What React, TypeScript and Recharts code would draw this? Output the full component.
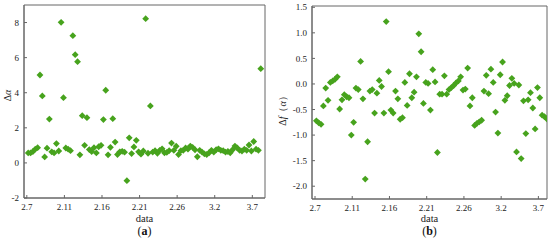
import { ReferenceArea, Scatter, ScatterChart, XAxis, YAxis } from "recharts";

const X_LABELS = ["2.7", "2.11", "2.16", "2.21", "2.26", "3.2", "3.7"];

// (a) Δα, one value per sample
const DELTA_A = [
  0.57, 0.57, 0.65, 0.78, 0.87, 5.01, 3.82, 0.34, 0.84, 2.5,
  0.63, 0.57, 1.1, 0.68, 8.01, 3.72, 0.85, 0.78, 0.7, 7.25,
  6.17, 5.77, 0.46, 2.69, 1.0, 2.58, 0.76, 0.65, 0.87, 0.57,
  0.92, 1.0, 2.47, 4.14, 0.46, 0.89, 2.52, 1.19, 0.48, 0.63,
  0.66, 0.61, -1.01, 1.43, 0.53, 0.91, 1.29, 0.63, 0.5, 0.68,
  8.22, 0.55, 3.25, 0.62, 0.7, 0.55, 0.72, 0.8, 0.58, 0.6,
  0.7, 1.13, 0.72, 0.95, 0.48, 0.7, 0.72, 0.85, 0.78, 0.96,
  0.88, 0.75, 0.35, 0.72, 0.62, 0.52, 0.48, 0.58, 0.72, 0.62,
  0.75, 0.8, 0.72, 0.7, 0.62, 0.65, 0.58, 0.75, 0.96, 0.85,
  0.72, 0.68, 0.78, 0.72, 1.02, 0.68, 1.22, 0.78, 0.72, 5.37,
];

// (b) Δf(α)
const DELTA_F = [
  -0.72, -0.76, -0.79, -0.43, -0.08, -0.32, 0.03, 0.06, 0.09, 0.14,
  -0.49, -0.31, -0.21, -0.25, -0.27, -1.0, -0.75, -0.08, -0.11, 0.44,
  -0.29, -1.86, -1.13, -0.14, -0.11, -0.57, -0.18, 0.07, -0.05, -0.57,
  1.22, 0.24, -0.51, -0.57, -0.14, -0.29, -0.69, -0.66, 0.03, -0.42,
  0.2, -0.27, -0.16, 0.14, 0.98, 0.63, -0.38, 0.03, 0.01, -0.51,
  0.28, 0.04, -1.34, -0.2, -0.2, 0.16, -0.2, -0.11, -0.07, -0.03,
  0.02, 0.06, 0.14, -0.12, -0.1, 0.31, -0.43, -0.27, -0.81, -0.77,
  -0.74, -0.71, -0.14, 0.17, -0.19, 0.29, 0.03, -0.55, -0.96, 0.18,
  0.43, -0.32, -0.23, -0.03, 0.11, 0.01, -1.33, -0.02, -1.46, -0.33,
  -0.97, -0.31, -0.17, -0.47, -0.88, -0.07, -0.27, -0.61, -0.64, -0.68,
];

const A_TICKS = [-2, 0, 2, 4, 6, 8];
const F_TICKS = [-2, -1.5, -1, -0.5, 0, 0.5, 1, 1.5];

const GREEN = "#47a31d";
const FRAME = "#666";
const FONT = "Liberation Serif, Times New Roman, serif";

// every label is 16 samples apart
const xTicks = X_LABELS.map((_, k) => k * 16 - 0.6);
const xFmt = (v: number) => X_LABELS[Math.round((v + 0.6) / 16)] ?? "";

const tickStyle = { fontSize: 9, fill: "#222", fontFamily: FONT, style: { fontFamily: FONT } };

function Diamond(props: any) {
  const { cx, cy } = props;
  const r = 3.4;
  return (
    <path
      d={`M${cx},${cy - r}L${cx + r},${cy}L${cx},${cy + r}L${cx - r},${cy}Z`}
      fill={GREEN}
    />
  );
}

interface PanelProps {
  values: number[];
  xDomain: [number, number];
  yDomain: [number, number];
  yTicks: number[];
  yFmt: (v: number) => string;
  yWidth: number;
  xHeight: number;
  margin: { top: number; right: number; left: number; bottom: number };
  yLabel: (vb: any) => React.ReactNode;
}

function Panel({ values, xDomain, yDomain, yTicks, yFmt, yWidth, xHeight, margin, yLabel }: PanelProps) {
  const rows = values.map((v, i) => ({ x: i, y: v }));
  return (
    <ScatterChart width={275} height={240} margin={margin} style={{ fontFamily: FONT }}>
      <XAxis
        type="number"
        dataKey="x"
        domain={xDomain}
        allowDataOverflow
        ticks={xTicks}
        tickFormatter={xFmt}
        interval={0}
        height={xHeight}
        tick={tickStyle}
        tickSize={-3}
        tickMargin={9}
        stroke={FRAME}
        label={{
          value: "data",
          position: "insideBottom",
          offset: 18,
          style: { fontSize: 10.5, fill: "#222", fontFamily: FONT },
        }}
      />
      <YAxis
        type="number"
        dataKey="y"
        domain={yDomain}
        allowDataOverflow
        ticks={yTicks}
        tickFormatter={yFmt}
        interval={0}
        width={yWidth}
        tick={tickStyle}
        tickSize={-3}
        tickMargin={8}
        stroke={FRAME}
        label={{ content: (p: any) => yLabel(p.viewBox) }}
      />
      <ReferenceArea
        x1={xDomain[0]}
        x2={xDomain[1]}
        y1={yDomain[0]}
        y2={yDomain[1]}
        fill="none"
        stroke={FRAME}
        strokeWidth={1}
        ifOverflow="visible"
      />
      <Scatter data={rows} shape={<Diamond />} isAnimationActive={false} />
    </ScatterChart>
  );
}

const tagStyle = (left: number): React.CSSProperties => ({
  position: "absolute",
  left: left - 20,
  width: 40,
  top: 224,
  textAlign: "center",
  fontSize: 12,
  fontFamily: FONT,
  color: "#111",
});

export default function App() {
  return (
    <div
      style={{
        position: "absolute",
        left: 0,
        top: 0,
        width: 550,
        height: 240,
        background: "#fff",
        fontFamily: FONT,
      }}
    >
      <div style={{ position: "absolute", left: 0, top: 0 }}>
        <Panel
          values={DELTA_A}
          xDomain={[-1.8, 100.8]}
          yDomain={[-2, 9]}
          yTicks={A_TICKS}
          yFmt={(v) => String(v)}
          yWidth={24}
          xHeight={42}
          margin={{ top: 5, right: 10, left: 0, bottom: 0 }}
          yLabel={(vb) => {
            const cx = vb.x + 7;
            const cy = vb.y + vb.height / 2 - 6;
            return (
              <text
                x={cx}
                y={cy}
                transform={`rotate(-90 ${cx} ${cy})`}
                textAnchor="middle"
                dominantBaseline="central"
                fontSize={10}
                fontFamily={FONT}
                fill="#222"
              >
                Δ<tspan fontStyle="italic">α</tspan>
              </text>
            );
          }}
        />
      </div>
      <div style={{ position: "absolute", left: 275, top: 0 }}>
        <Panel
          values={DELTA_F}
          xDomain={[-1.89, 99.1]}
          yDomain={[-2.25, 1.525]}
          yTicks={F_TICKS}
          yFmt={(v) => v.toFixed(1)}
          yWidth={37}
          xHeight={41}
          margin={{ top: 6, right: 3, left: 0, bottom: 0 }}
          yLabel={(vb) => {
            const cx = vb.x + 7;
            const cy = vb.y + vb.height / 2 + 6;
            return (
              <text
                x={cx}
                y={cy}
                transform={`rotate(-90 ${cx} ${cy})`}
                textAnchor="middle"
                dominantBaseline="central"
                fontSize={10}
                fontFamily={FONT}
                fill="#222"
              >
                Δ<tspan fontStyle="italic">f</tspan>（<tspan fontStyle="italic">α</tspan>）
              </text>
            );
          }}
        />
      </div>
      <div style={tagStyle(144.5)}>
        (<b>a</b>)
      </div>
      <div style={tagStyle(429.5)}>
        (<b>b</b>)
      </div>
    </div>
  );
}
